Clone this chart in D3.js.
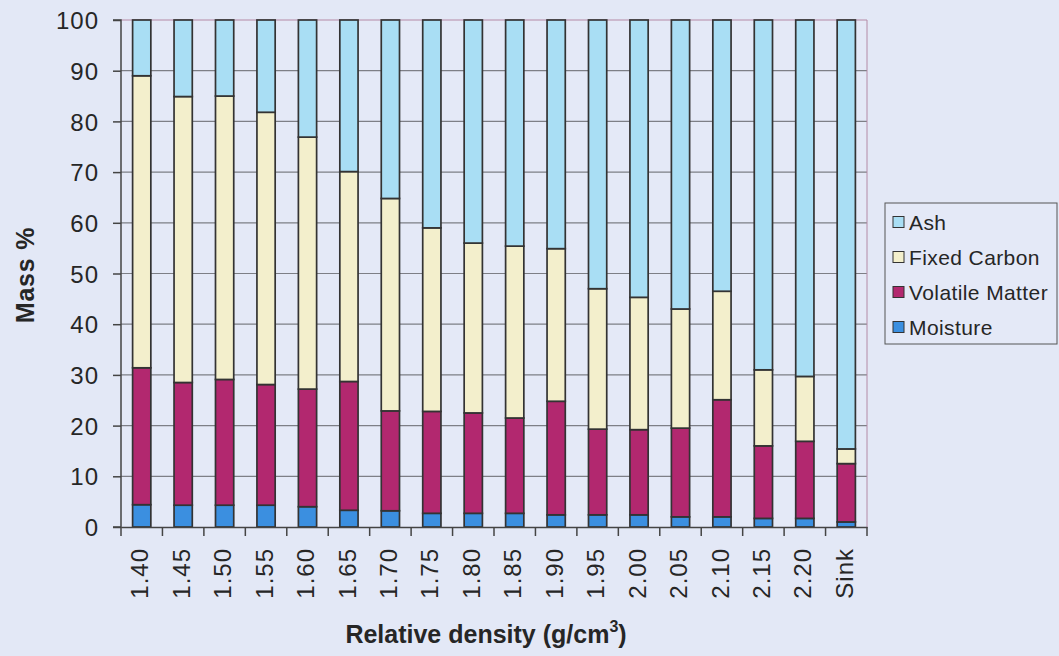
<!DOCTYPE html>
<html><head><meta charset="utf-8">
<script src="https://cdn.jsdelivr.net/npm/d3@7"></script>
<style>
html,body{margin:0;padding:0;background:#e3e8f6;}
svg{display:block;font-family:"Liberation Sans",Arial,sans-serif;}
</style></head>
<body><svg id="c" width="1059" height="656"></svg>
<script>
const categories = ["1.40","1.45","1.50","1.55","1.60","1.65","1.70","1.75","1.80","1.85","1.90","1.95","2.00","2.05","2.10","2.15","2.20","Sink"];
const moisture = [4.4,4.3,4.3,4.3,4.0,3.3,3.2,2.7,2.7,2.7,2.4,2.4,2.4,2.0,2.0,1.7,1.7,1.0];
const volatileMatter = [27.0,24.2,24.8,23.8,23.2,25.4,19.7,20.1,19.8,18.8,22.4,16.9,16.8,17.5,23.1,14.3,15.2,11.5];
const fixedCarbon = [57.6,56.4,55.9,53.7,49.7,41.4,41.9,36.2,33.5,33.9,30.1,27.7,26.1,23.5,21.4,15.0,12.8,2.9];
const ash = [11.0,15.1,15.0,18.2,23.1,29.9,35.2,41.0,44.0,44.6,45.1,53.0,54.7,57.0,53.5,69.0,70.3,84.6];
const seriesNames = ["Moisture","Volatile Matter","Fixed Carbon","Ash"];
const seriesColors = ["#3b8fe0","#b2286f","#f3efcc","#a9def4"];
const yTicks = [0,10,20,30,40,50,60,70,80,90,100];

const rows = categories.map((c,i)=>({cat:c,"Moisture":moisture[i],"Volatile Matter":volatileMatter[i],"Fixed Carbon":fixedCarbon[i],"Ash":ash[i]}));
const stacked = d3.stack().keys(seriesNames)(rows);

const svg = d3.select("#c");
const L=121, R=867, T=20, B=527;
const x = d3.scaleBand().domain(categories).range([L,R]).paddingInner(0).paddingOuter(0);
const y = d3.scaleLinear().domain([0,100]).range([B,T]);
const color = d3.scaleOrdinal().domain(seriesNames).range(seriesColors);

svg.append("rect").attr("x",L).attr("y",T).attr("width",R-L).attr("height",B-T).attr("fill","#e4e9f7");
svg.append("g").selectAll("line").data(yTicks.filter(d=>d>0 && d<100)).join("line")
  .attr("x1",L).attr("x2",R).attr("y1",d=>y(d)).attr("y2",d=>y(d))
  .attr("stroke","#7d7f86").attr("stroke-width",1.2);
svg.append("path").attr("d",`M${L},${T}H${R}V${B}`).attr("fill","none").attr("stroke","#b48aa6").attr("stroke-width",1);

const bw = x.step()*0.44;
svg.append("g").selectAll("g").data(stacked).join("g").attr("fill",d=>color(d.key))
  .selectAll("rect").data(d=>d).join("rect")
  .attr("x",d=>x(d.data.cat)+(x.step()-bw)/2).attr("width",bw)
  .attr("y",d=>y(d[1])).attr("height",d=>y(d[0])-y(d[1]))
  .attr("stroke","#333").attr("stroke-width",1.7);

const ya = svg.append("g").attr("transform",`translate(${L},0)`)
  .call(d3.axisLeft(y).tickValues(yTicks).tickSize(8).tickPadding(14));
ya.select(".domain").attr("stroke","#444").attr("stroke-width",1.5).attr("d",`M-8,${T}H0V${B}H-8`);
ya.selectAll(".tick line").attr("stroke","#444").attr("stroke-width",1.5);
ya.selectAll("text").attr("font-size",24).attr("letter-spacing",1).attr("fill","#262626").attr("dy","0.36em");

const xa = svg.append("g").attr("transform",`translate(0,${B})`)
  .call(d3.axisBottom(x).tickSize(0).tickPadding(0));
xa.select(".domain").attr("stroke","#444").attr("stroke-width",1.5);
xa.selectAll(".tick text").attr("font-size",24).attr("letter-spacing",1).attr("fill","#262626")
  .attr("transform","translate(-2,21) rotate(-90)").attr("text-anchor","end").attr("dy","0.36em").attr("y",0).attr("x",0);
svg.append("g").selectAll("line").data(categories.concat(["__end"])).join("line")
  .attr("x1",(d,i)=>L+i*x.step()).attr("x2",(d,i)=>L+i*x.step())
  .attr("y1",B).attr("y2",B+9).attr("stroke","#444").attr("stroke-width",1.5);

svg.append("text").attr("transform","translate(34,275) rotate(-90)").attr("text-anchor","middle")
  .attr("font-size",25).attr("letter-spacing",0.8).attr("font-weight","bold").attr("fill","#262626").text("Mass %");
const xt = svg.append("text").attr("x",486).attr("y",643).attr("text-anchor","middle")
  .attr("font-size",25).attr("font-weight","bold").attr("fill","#262626");
xt.append("tspan").text("Relative density (g/cm");
xt.append("tspan").attr("font-size",16).attr("dy",-11).text("3");
xt.append("tspan").attr("dy",11).text(")");

const lg = svg.append("g");
lg.append("rect").attr("x",885).attr("y",203).attr("width",172).attr("height",141)
  .attr("fill","#e4e9f7").attr("stroke","#555").attr("stroke-width",1);
const legOrder = seriesNames.slice().reverse();
const li = lg.selectAll("g").data(legOrder).join("g").attr("transform",(d,i)=>`translate(893,${222+i*35})`);
li.append("rect").attr("x",0).attr("y",-5.5).attr("width",11).attr("height",11).attr("fill",d=>color(d)).attr("stroke","#333").attr("stroke-width",1);
li.append("text").attr("x",16).attr("y",0).attr("dy","0.36em").attr("font-size",21).attr("letter-spacing",0.4).attr("fill","#262626").text(d=>d);
</script></body></html>
